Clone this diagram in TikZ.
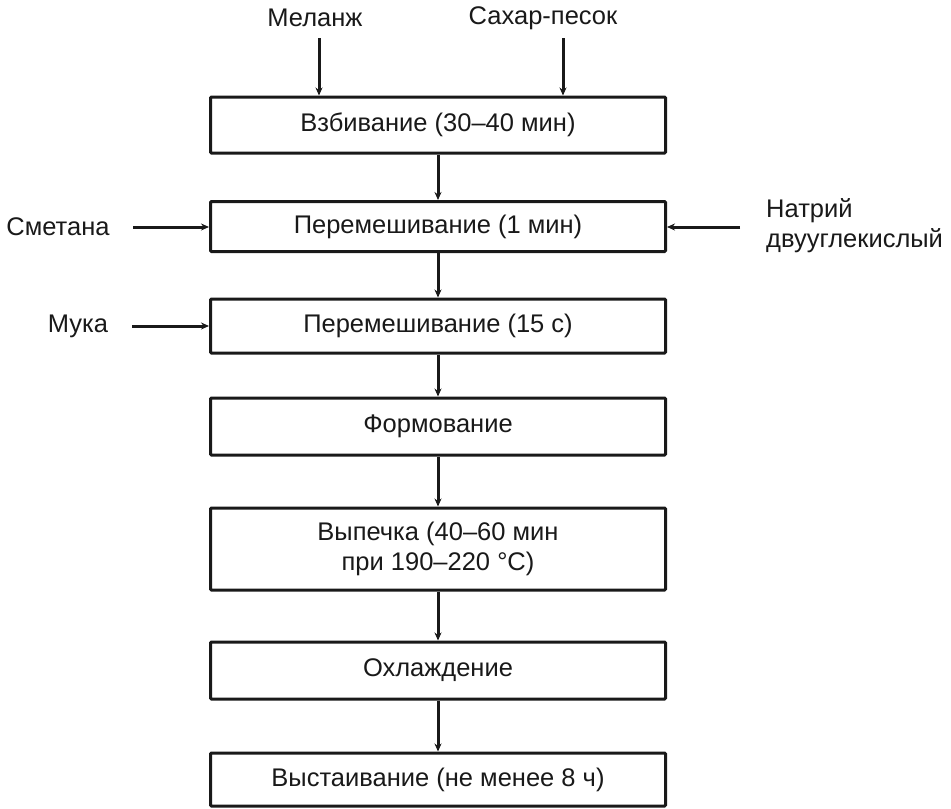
\documentclass[tikz,border=0pt]{standalone}
\usepackage{fontspec}
\setmainfont{Liberation Sans}
\usetikzlibrary{arrows.meta}
\begin{document}
\begin{tikzpicture}[x=1pt,y=-1pt,
  every node/.style={font=\fontsize{25.5}{30}\selectfont, text=black!90},
  stage/.style={draw=black!90, line width=3pt, rounded corners=1pt,
    minimum width=455pt, inner sep=0pt, align=center},
  flow/.style={draw=black!90, line width=3pt,
    -{Stealth[length=8pt,width=7pt]}},
  lbl/.style={inner sep=0pt}]
\useasboundingbox (0,0) rectangle (951,809);

% process stages
\node[stage, minimum height=56pt] (b1) at (438,125) {Взбивание (30–40 мин)};
\node[stage, minimum height=50pt] (b2) at (438,226.5) {Перемешивание (1 мин)};
\node[stage, minimum height=54pt] (b3) at (438,326) {Перемешивание (15 с)};
\node[stage, minimum height=57pt] (b4) at (438,426.5) {Формование};
\node[stage, minimum height=82pt] (b5) at (438,549) {Выпечка (40–60 мин\\при 190–220 °C)};
\node[stage, minimum height=57pt] (b6) at (438,670.5) {Охлаждение};
\node[stage, minimum height=53pt] (b7) at (438,779.5) {Выстаивание (не менее 8 ч)};

% ingredients
\node[lbl] (melanzh) at (315,18) {Меланж};
\node[lbl] (sakhar) at (543,18) {Сахар-песок};
\node[lbl] (smetana) at (58,227) {Сметана};
\node[lbl] (muka) at (78,326) {Мука};
\node[lbl, anchor=west, align=left] (natriy) at (766,226) {Натрий\\двууглекислый};

% free ends of the ingredient arrows
\coordinate (melanzhOut) at (319,38);
\coordinate (sakharOut) at (563,38);
\coordinate (smetanaOut) at (133,227);
\coordinate (mukaOut) at (132,326);
\coordinate (natriyOut) at (740,227);

\draw[flow] (melanzhOut) -- (melanzhOut |- b1.north);
\draw[flow] (sakharOut) -- (sakharOut |- b1.north);
\draw[flow] (smetanaOut) -- (smetanaOut -| b2.west);
\draw[flow] (mukaOut) -- (mukaOut -| b3.west);
\draw[flow] (natriyOut) -- (natriyOut -| b2.east);

% main flow
\draw[flow] (b1) -- (b2);
\draw[flow] (b2) -- (b3);
\draw[flow] (b3) -- (b4);
\draw[flow] (b4) -- (b5);
\draw[flow] (b5) -- (b6);
\draw[flow] (b6) -- (b7);
\end{tikzpicture}
\end{document}
